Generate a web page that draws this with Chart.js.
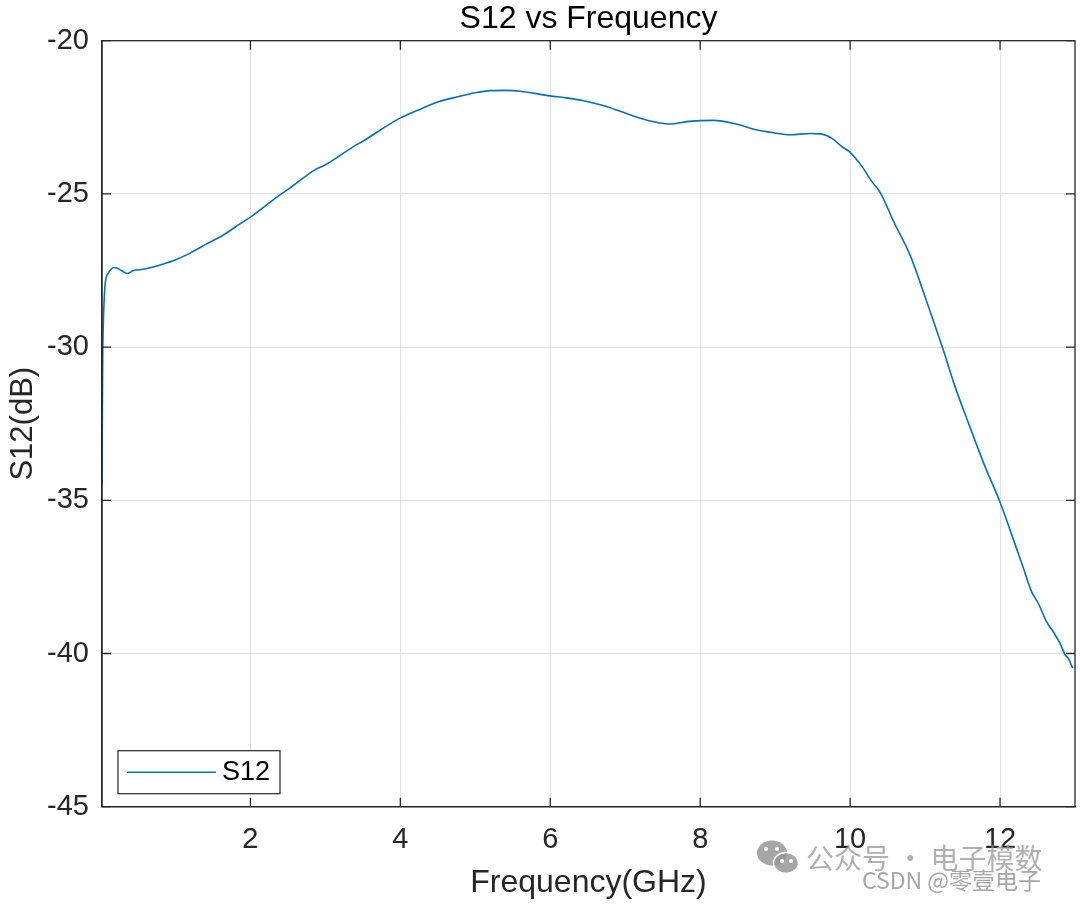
<!DOCTYPE html>
<html>
<head>
<meta charset="utf-8">
<script src="https://cdn.jsdelivr.net/npm/chart.js@4/dist/chart.umd.min.js"></script>
<style>
  html, body { margin: 0; padding: 0; background: #fff; }
  #wrap { width: 1080px; height: 904px; }
</style>
</head>
<body>
<div id="wrap"><canvas id="s12Chart" width="1080" height="904"></canvas></div>
<script>
const freqGHz = [0.02, 0.025, 0.03, 0.037, 0.06, 0.1, 0.19, 0.28, 0.36, 0.44,
  0.57, 0.75, 0.97, 1.19, 1.41, 1.64, 1.86, 2.0, 2.3, 2.52,
  2.87, 3.0, 3.38, 3.5, 4.0, 4.25, 4.5, 4.75, 5.0, 5.2,
  5.41, 5.6, 6.0, 6.2, 6.43, 6.68, 6.93, 7.19, 7.39, 7.6,
  7.82, 8.0, 8.18, 8.48, 8.73, 8.99, 9.2, 9.47, 9.6, 9.76,
  9.89, 9.99, 10.16, 10.29, 10.4, 10.59, 10.8, 11.02, 11.23, 11.4,
  11.58, 11.8, 11.99, 12.15, 12.31, 12.42, 12.51, 12.62, 12.71, 12.8,
  12.87, 12.91, 12.97];
const s12dB = [-34.5, -32.0, -30.2, -29.3, -28.0, -27.6, -27.4, -27.5, -27.6, -27.5,
  -27.46, -27.35, -27.18, -26.94, -26.64, -26.34, -25.98, -25.76, -25.2, -24.82,
  -24.2, -24.05, -23.45, -23.28, -22.52, -22.25, -22.0, -21.84, -21.7, -21.63,
  -21.62, -21.65, -21.8, -21.86, -21.95, -22.1, -22.3, -22.52, -22.65, -22.72,
  -22.64, -22.61, -22.6, -22.72, -22.9, -23.01, -23.07, -23.03, -23.04, -23.19,
  -23.46, -23.62, -24.11, -24.6, -24.95, -25.95, -27.0, -28.5, -30.0, -31.29,
  -32.49, -33.9, -35.0, -36.08, -37.2, -37.98, -38.36, -38.96, -39.29, -39.67,
  -40.05, -40.16, -40.48];

const xTicks = [2, 4, 6, 8, 10, 12];
const yTicks = [-45, -40, -35, -30, -25, -20];

const titleText = "S12 vs Frequency";
const xLabel = "Frequency(GHz)";
const yLabel = "S12(dB)";
const seriesName = "S12";

const FONT = '"Liberation Sans", Arial, sans-serif';
const AXIS_COLOR = "#262626";
const LINE_COLOR = "#0072BD";

// 坐标框 + 内向刻度 (MATLAB 风格)
const boxPlugin = {
  id: "boxTicks",
  afterDatasetsDraw(chart) {
    const { ctx, chartArea: a, scales: { x, y } } = chart;
    ctx.save();
    ctx.strokeStyle = AXIS_COLOR;
    ctx.lineWidth = 1.3;
    ctx.strokeRect(a.left, a.top, a.right - a.left, a.bottom - a.top);
    ctx.beginPath();
    xTicks.forEach(v => {
      const px = x.getPixelForValue(v);
      ctx.moveTo(px, a.bottom); ctx.lineTo(px, a.bottom - 9);
      ctx.moveTo(px, a.top); ctx.lineTo(px, a.top + 9);
    });
    yTicks.forEach(v => {
      const py = y.getPixelForValue(v);
      ctx.moveTo(a.left, py); ctx.lineTo(a.left + 9, py);
      ctx.moveTo(a.right, py); ctx.lineTo(a.right - 9, py);
    });
    ctx.stroke();
    ctx.restore();
  }
};

// 标题 (居中于坐标区)
const titlePlugin = {
  id: "axesTitle",
  afterDraw(chart) {
    const { ctx, chartArea: a } = chart;
    ctx.save();
    ctx.font = "32px " + FONT;
    ctx.fillStyle = "#000";
    ctx.textAlign = "center";
    ctx.textBaseline = "alphabetic";
    ctx.fillText(titleText, (a.left + a.right) / 2, 28);
    ctx.restore();
  }
};

// 图例 (左下角, 带边框)
const legendPlugin = {
  id: "boxLegend",
  afterDraw(chart) {
    const { ctx, chartArea: a } = chart;
    const ds = chart.data.datasets[0];
    const bx = a.left + 16, by = a.bottom - 56, bw = 162, bh = 43;
    ctx.save();
    ctx.fillStyle = "#fff";
    ctx.fillRect(bx, by, bw, bh);
    ctx.strokeStyle = AXIS_COLOR;
    ctx.lineWidth = 1.2;
    ctx.strokeRect(bx, by, bw, bh);
    ctx.strokeStyle = ds.borderColor;
    ctx.lineWidth = ds.borderWidth;
    ctx.beginPath();
    ctx.moveTo(bx + 9, by + 21.5);
    ctx.lineTo(bx + 98, by + 21.5);
    ctx.stroke();
    ctx.font = "27px " + FONT;
    ctx.fillStyle = "#000";
    ctx.textAlign = "left";
    ctx.textBaseline = "middle";
    ctx.fillText(ds.label, bx + 104, by + 22);
    ctx.restore();
  }
};

// 水印
const watermarkPlugin = {
  id: "watermark",
  afterDraw(chart) {
    const { ctx } = chart;
    ctx.save();
    ctx.fillStyle = "rgba(150,150,150,0.85)";
    ctx.beginPath();
    ctx.ellipse(772, 853, 15, 12.5, 0, 0, Math.PI * 2);
    ctx.fill();
    ctx.beginPath();
    ctx.ellipse(786, 863, 12.5, 10.5, 0, 0, Math.PI * 2);
    ctx.fill();
    ctx.strokeStyle = "#fff";
    ctx.lineWidth = 1.5;
    ctx.stroke();
    ctx.fillStyle = "#fff";
    [[766, 849], [777, 849], [782, 861], [791, 861]].forEach(([ex, ey]) => {
      ctx.beginPath(); ctx.arc(ex, ey, 2, 0, Math.PI * 2); ctx.fill();
    });
    ctx.font = '28px "Noto Sans CJK SC", sans-serif';
    ctx.fillStyle = "rgba(150,150,150,0.75)";
    ctx.textAlign = "left";
    ctx.textBaseline = "middle";
    ctx.fillText("公众号 · 电子模数", 806, 858);
    ctx.font = '23px "Noto Sans CJK SC", sans-serif';
    ctx.fillStyle = "rgba(150,150,150,0.85)";
    ctx.fillText("CSDN @零壹电子", 862, 880);
    ctx.restore();
  }
};

const points = freqGHz.map((f, i) => ({ x: f, y: s12dB[i] }));

new Chart(document.getElementById("s12Chart"), {
  type: "line",
  data: {
    datasets: [{
      label: seriesName,
      data: points,
      borderColor: LINE_COLOR,
      borderWidth: 1.6,
      pointRadius: 0,
      fill: false,
      cubicInterpolationMode: "monotone"
    }]
  },
  options: {
    responsive: false,
    animation: false,
    layout: { padding: { top: 40.7, right: 5, bottom: 0, left: 0 } },
    plugins: {
      legend: { display: false },
      title: { display: false },
      tooltip: { enabled: false }
    },
    scales: {
      x: {
        type: "linear",
        min: 0.02,
        max: 13,
        afterBuildTicks: scale => { scale.ticks = xTicks.map(v => ({ value: v })); },
        afterFit: scale => { scale.height = 97.3; },
        grid: { color: "#e0e0e0", lineWidth: 1, drawTicks: false },
        border: { display: true, color: AXIS_COLOR, width: 1.3 },
        ticks: { color: AXIS_COLOR, font: { family: FONT, size: 29 }, padding: 15.5, maxRotation: 0 },
        title: { display: true, text: xLabel, color: AXIS_COLOR, font: { family: FONT, size: 32 }, padding: { top: 0, bottom: 2 } }
      },
      y: {
        type: "linear",
        min: -45,
        max: -20,
        afterBuildTicks: scale => { scale.ticks = yTicks.map(v => ({ value: v })); },
        afterFit: scale => { scale.width = 102; },
        grid: { color: "#e0e0e0", lineWidth: 1, drawTicks: false },
        border: { display: true, color: AXIS_COLOR, width: 1.3 },
        ticks: { color: AXIS_COLOR, font: { family: FONT, size: 29 }, padding: 13 },
        title: { display: true, text: yLabel, color: AXIS_COLOR, font: { family: FONT, size: 31 }, padding: { top: 4.4, bottom: 0 } }
      }
    }
  },
  plugins: [boxPlugin, legendPlugin, titlePlugin, watermarkPlugin]
});
</script>
</body>
</html>
